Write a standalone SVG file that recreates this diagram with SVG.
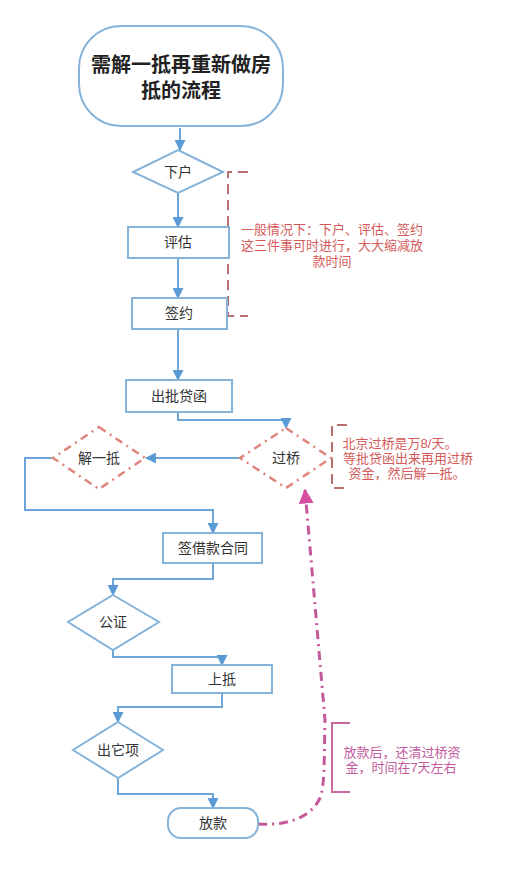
<svg xmlns="http://www.w3.org/2000/svg" width="511" height="872" viewBox="0 0 511 872">
<style>
text{font-family:"Liberation Sans","Noto Sans CJK SC","Noto Sans CJK JP",sans-serif;text-anchor:middle;dominant-baseline:central}
.box{fill:#fff;stroke:#86b3da;stroke-width:2}
.lbl{font-size:14px;fill:#333}
.ln{fill:none;stroke:#6da6d9;stroke-width:2}
.rd{fill:#fff;stroke:#e0857c;stroke-width:2.5;stroke-dasharray:8 5 2 5}
.note-r{font-size:13px;fill:#d45a5a}
.note-p{font-size:13px;fill:#c45a9e}
.br-r{fill:none;stroke:#b8706e;stroke-width:2;stroke-dasharray:10 6}
.br-p{fill:none;stroke:#c86aa2;stroke-width:2}
</style>
<defs>
<marker id="ab" viewBox="0 0 10 10" refX="9" refY="5" markerWidth="5.5" markerHeight="5.5" orient="auto" markerUnits="strokeWidth"><path d="M0,0 L10,5 L0,10 z" fill="#5b9bd5"/></marker>
<marker id="ap" viewBox="0 0 10 10" refX="9" refY="5" markerWidth="5" markerHeight="5" orient="auto" markerUnits="strokeWidth"><path d="M0,0 L10,5 L0,10 z" fill="#d64ea0"/></marker>
</defs>
<rect width="511" height="872" fill="#fff"/>
<g id="connectors">
<path class="ln" d="M180,128 V150" marker-end="url(#ab)"/>
<path class="ln" d="M178,193 V227" marker-end="url(#ab)"/>
<path class="ln" d="M178,258 V298" marker-end="url(#ab)"/>
<path class="ln" d="M178,329 V380" marker-end="url(#ab)"/>
<path class="ln" d="M178,412 V420 H286 V428" marker-end="url(#ab)"/>
<path class="ln" d="M240,458 H146" marker-end="url(#ab)"/>
<path class="ln" d="M53,458 H25 V510 H213 V533" marker-end="url(#ab)"/>
<path class="ln" d="M213,563 V579 H113 V595" marker-end="url(#ab)"/>
<path class="ln" d="M113,650 V657 H222 V665" marker-end="url(#ab)"/>
<path class="ln" d="M222,693 V707 H118 V722" marker-end="url(#ab)"/>
<path class="ln" d="M118,778 V794 H213 V808" marker-end="url(#ab)"/>
<path d="M258,824 C292,826 312,815 320,798 C325,785 324,760 325,720 L305,490" fill="none" stroke="#c4599a" stroke-width="3" stroke-dasharray="9 5 2 5" marker-end="url(#ap)"/>
<path class="br-r" d="M248,172 H228 V316 H248"/>
<path class="br-r" d="M347,425 H332 V488 H347"/>
<path d="M330,458 H332" stroke="#b8706e" stroke-width="2"/>
<path class="br-p" d="M350,723 H332 V792 H350"/>
</g>
<g id="start">
<rect x="79" y="26" width="204" height="100" rx="42" ry="42" class="box"/>
<text x="181" y="65" font-size="20" font-weight="bold" fill="#222">需解一抵再重新做房</text>
<text x="181" y="91" font-size="20" font-weight="bold" fill="#222">抵的流程</text>
</g>
<g id="xiahu">
<polygon class="box" points="178,150 223,172 178,193 133,172"/>
<text class="lbl" x="178" y="172">下户</text>
</g>
<g id="pinggu">
<rect class="box" x="128" y="227" width="101" height="31"/>
<text class="lbl" x="178" y="242">评估</text>
</g>
<g id="qianyue">
<rect class="box" x="132" y="298" width="95" height="31"/>
<text class="lbl" x="179" y="313">签约</text>
</g>
<g id="chupidaihan">
<rect class="box" x="126" y="380" width="106" height="32"/>
<text class="lbl" x="179" y="396">出批贷函</text>
</g>
<g id="guoqiao">
<polygon class="rd" points="286,428 331,458 286,488 240,458"/>
<text class="lbl" x="286" y="458">过桥</text>
</g>
<g id="jieyidi">
<polygon class="rd" points="99,427 145,458 99,489 53,458"/>
<text class="lbl" x="99" y="458">解一抵</text>
</g>
<g id="qianjiekuan">
<rect class="box" x="163" y="533" width="99" height="30"/>
<text class="lbl" x="213" y="548">签借款合同</text>
</g>
<g id="gongzheng">
<polygon class="box" points="113,595 159,622 113,650 68,622"/>
<text class="lbl" x="113" y="622">公证</text>
</g>
<g id="shangdi">
<rect class="box" x="172" y="665" width="100" height="28"/>
<text class="lbl" x="222" y="679">上抵</text>
</g>
<g id="chutaxiang">
<polygon class="box" points="118,722 163,750 118,778 73,750"/>
<text class="lbl" x="118" y="750">出它项</text>
</g>
<g id="fangkuan">
<rect class="box" x="168" y="808" width="90" height="30" rx="13" ry="13"/>
<text class="lbl" x="213" y="823">放款</text>
</g>
<g id="note1">
<text class="note-r" x="332" y="229" font-size="13.8">一般情况下：下户、评估、签约</text>
<text class="note-r" x="332" y="245" font-size="13.8">这三件事可时进行，大大缩减放</text>
<text class="note-r" x="332" y="261" font-size="13.8">款时间</text>
</g>
<g id="note2">
<text class="note-r" x="400" y="443">北京过桥是万8/天。</text>
<text class="note-r" x="408" y="458">等批贷函出来再用过桥</text>
<text class="note-r" x="407" y="473">资金，然后解一抵。</text>
</g>
<g id="note3">
<text class="note-p" x="402" y="752">放款后，还清过桥资</text>
<text class="note-p" x="401" y="767">金，时间在7天左右</text>
</g>
</svg>
